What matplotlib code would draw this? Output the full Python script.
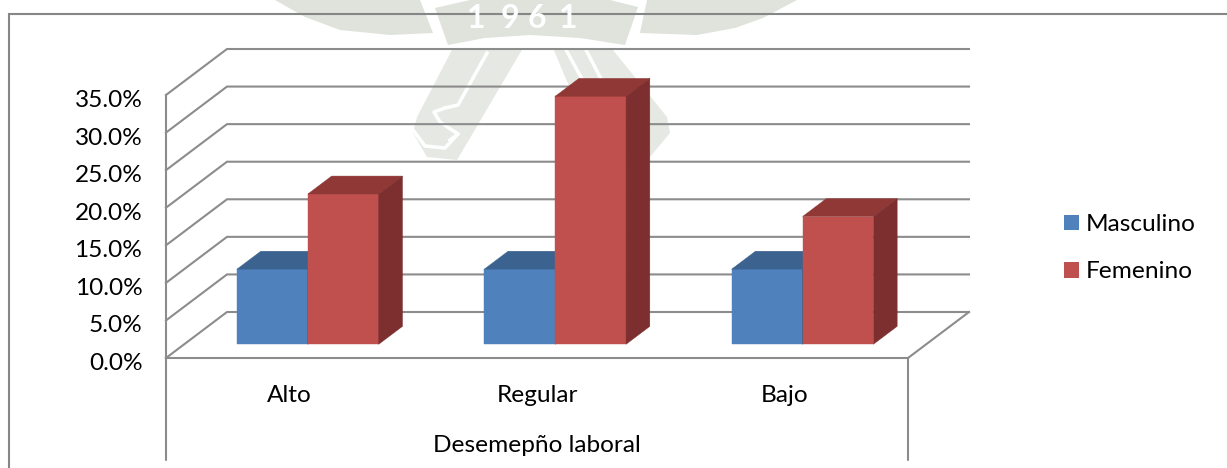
import matplotlib
matplotlib.use("Agg")
import matplotlib.pyplot as plt
from matplotlib.patches import Patch, Polygon
from matplotlib.transforms import ScaledTranslation

plt.rcParams["font.family"] = ["Lato", "DejaVu Sans"]

categories = ["Alto", "Regular", "Bajo"]
masculino = [10, 10, 10]
femenino = [20, 33, 17]
y_ticks = [0, 5, 10, 15, 20, 25, 30, 35]
x_title = "Desemepño laboral"

W, H = 1227, 468
GRID = "#8c8c8c"
FS = 17.6

# oblique depth of the fake 3D box, in data units
DX = 61 / 247.33
DY = 46 / 7.514
BAR_W = 0.2865
D0, D1 = 0.298, 0.688


def proj(x, y, d):
    return x + d * DX, y + d * DY


def draw_bar(ax, left, value, front, top, side):
    right = left + BAR_W
    faces = [
        ([proj(left, 0, D0), proj(right, 0, D0), proj(right, value, D0), proj(left, value, D0)], front),
        ([proj(left, value, D0), proj(right, value, D0), proj(right, value, D1), proj(left, value, D1)], top),
        ([proj(right, 0, D0), proj(right, 0, D1), proj(right, value, D1), proj(right, value, D0)], side),
    ]
    for pts, color in faces:
        ax.add_patch(Polygon(pts, closed=True, facecolor=color, edgecolor=color, lw=0.3, zorder=3, clip_on=False))


fig = plt.figure(figsize=(W / 100, H / 100), dpi=100, facecolor="white")

# faint seal printed behind the chart, in pixel coordinates
bg = fig.add_axes([0, 0, 1, 1], zorder=0)
bg.set_xlim(0, W)
bg.set_ylim(H, 0)
bg.axis("off")
SEAL = "#dfe3dc"
SEAL_LIGHT = "#e6e9e3"
seal_shapes = [
    ([(275, 0), (305, 17), (340, 30), (390, 35), (433, 33), (422, 5), (420, 0)], SEAL),
    ([(647, 0), (640, 33), (697, 35), (735, 28), (763, 18), (797, 0)], SEAL),
    ([(435, 8), (470, 0), (610, 0), (638, 7), (625, 45), (580, 38), (530, 35), (485, 38), (448, 45)], SEAL),
    ([(453, 48), (523, 48), (473, 133), (457, 160), (427, 157), (413, 133), (417, 117)], SEAL_LIGHT),
    ([(553, 48), (613, 50), (667, 117), (670, 133), (650, 157), (600, 160)], SEAL_LIGHT),
]
for pts, color in seal_shapes:
    bg.add_patch(Polygon(pts, closed=True, facecolor=color, edgecolor="none"))
bg.plot([487, 458, 445], [53, 105, 108], color="white", lw=2.5)
bg.plot([445, 434, 440, 458, 450], [108, 112, 122, 134, 140], color="white", lw=2.5)
bg.plot([413, 425, 445, 458], [130, 146, 148, 134], color="white", lw=2.5)
bg.plot([565, 610], [48, 130], color="white", lw=2.5)
bg.plot([585, 625], [48, 125], color="white", lw=2.5)
for digit, x in zip("1961", [476, 510, 537, 568]):
    bg.text(x, 18, digit, color="white", fontsize=23, fontweight="bold", ha="center", va="center")

# outer chart frame
bg.plot([8.5, 8.5, W], [H, 14, 14], color="#868686", lw=1.5, solid_joinstyle="miter")

ax = fig.add_axes([166 / W, 1 - 358 / H, 742 / W, 263 / H], zorder=1)
ax.patch.set_alpha(0)
ax.set_xlim(0, 3)
ax.set_ylim(0, 35)

# back wall, side wall and floor
for v in y_ticks:
    xs, ys = zip(proj(0, v, 0), proj(0, v, 1), proj(3, v, 1))
    ax.plot(xs, ys, color=GRID, lw=1.5, clip_on=False, zorder=1, solid_joinstyle="miter")
xs, ys = zip(proj(3, 0, 0), proj(3, 0, 1))
ax.plot(xs, ys, color=GRID, lw=1.5, clip_on=False, zorder=1)

for i in range(len(categories)):
    draw_bar(ax, i + 0.5 - BAR_W, masculino[i], "#4f81bd", "#3c6290", "#37597f")
    draw_bar(ax, i + 0.5, femenino[i], "#c0504d", "#8f3836", "#7c2f2e")

for side in ["top", "right"]:
    ax.spines[side].set_visible(False)
for side in ["left", "bottom"]:
    ax.spines[side].set_color(GRID)
    ax.spines[side].set_linewidth(1.5)

ax.set_xticks([])
ax.set_yticks(y_ticks)
ax.set_yticklabels([f"{v:.1f}%" for v in y_ticks], fontsize=FS, color="black")
ax.tick_params(axis="y", length=0, pad=17)
shift = ScaledTranslation(0, -2.5 / 72, fig.dpi_scale_trans)
for lab in ax.get_yticklabels():
    lab.set_transform(lab.get_transform() + shift)

# multi-level category axis: separators, labels, axis title
for x in [0, 3]:
    ax.annotate("", xy=(x, 0), xytext=(0, -102 * 0.72), textcoords="offset points",
                arrowprops=dict(arrowstyle="-", color=GRID, lw=1.5, shrinkA=0, shrinkB=0))
for i, name in enumerate(categories):
    ax.annotate(name, xy=(i + 0.5, 0), xytext=(0, -37 * 0.72), textcoords="offset points",
                ha="center", va="center", fontsize=FS)
ax.annotate(x_title, xy=(1.5, 0), xytext=(0, -87 * 0.72), textcoords="offset points",
            ha="center", va="center", fontsize=FS)

handles = [Patch(facecolor="#4f81bd", label="Masculino"), Patch(facecolor="#c0504d", label="Femenino")]
fig.legend(handles=handles, loc="upper left", bbox_to_anchor=(1064 / W, 1 - 214 / H), frameon=False,
           fontsize=FS, handlelength=0.61, handleheight=0.61, handletextpad=0.3,
           labelspacing=1.08, borderpad=0, borderaxespad=0)

fig.savefig("out.png", dpi=100)
